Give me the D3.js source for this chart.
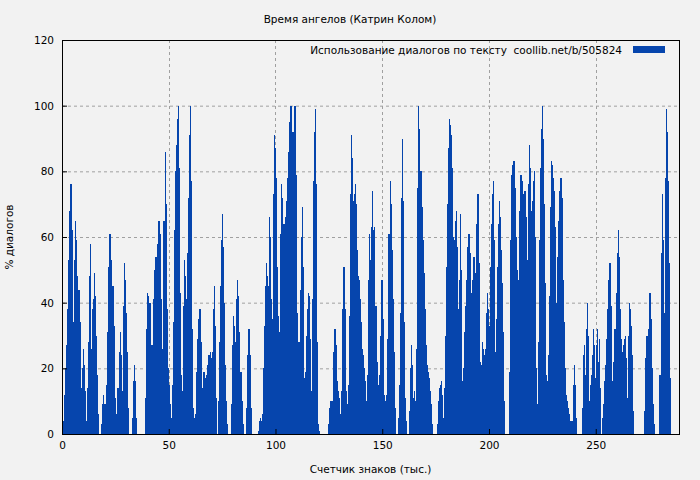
<!DOCTYPE html>
<html>
<head>
<meta charset="utf-8">
<script src="https://cdn.jsdelivr.net/npm/d3@7"></script>
<style>
  body { margin: 0; background: #f2f2f2; }
  text { font-family: "DejaVu Sans", sans-serif; font-size: 10.5px; fill: #000; }
</style>
</head>
<body>
<div id="plot"></div>
<script>
// chart texts
var title = "Время ангелов (Катрин Колом)";
var xLabel = "Счетчик знаков (тыс.)";
var yLabel = "% диалогов";
var legendLabel = "Использование диалогов по тексту\u00a0\u00a0coollib.net/b/505824";
var xTicks = [0, 50, 100, 150, 200, 250];
var yTicks = [0, 20, 40, 60, 80, 100, 120];

// bar layout in data units (thousand chars)
var xStart = 0.6;
var xStep = 0.479;

// % dialogue per bar
var values = [].concat(
  [4,12,20,27,38,53,68,76,62,34,53,65,59,48,44,44,34,14,20,26,21,13,4,14,28,48,58,26,38,41,
   49,42,30,18,6,0,0,3,9,12,9,5,15,31,51,61,53,40,45,33,11,4,6,14,25,31,24,13,39,52,
   47,37,25,8,0,0,0,5,16,21,16,5,0,0,0,0,0,0,0,0,11,32,43,42,40,27,12,27,41,50,
   54,44,58,65,61,41,26,23,65],
  [86,70,38,20,15,9,5,15,34,62,80,88,96,100,81,43,18,13,39,53,48,41,55,72,91,100,77,32,8,5,
   6,19,29,35,38,28,10,14,19,17,12,18,21,24,25,23,25,38,45,33,11,0,10,28,45,59,67,57,40,21,
   10,3,0,0,0,9,27,36,33,28,41,47,42,31,19,10,3,0,0,0,8,24,32,24,8,0,0,0,0,0,
   0,1,4,5,4,6,20,33,45,52,48,45,66,60,41,35,73,91],
  [87,78,51,36,31,61,76,72,64,64,66,71,78,86,95,100,92,77,92,100,79,37,19,28,44,60,69,51,17,19,
   30,38,43,42,29,13,41,77,92,99,76,28,3,1,0,0,0,0,0,0,0,0,3,8,10,7,10,25,32,27,
   16,13,11,6,3,13,38,51,38,13,9,15,36,73,91,84,71,73,76,70,56,48,47,41,34,26,24,20,16,10,
   18,47,61,53,63,74,62,63,39,22,15,6],
  [18,30,47,35,12,7,10,12,29,61,77,70,56,41,25,8,0,0,5,15,37,72,90,71,34,11,4,0,0,7,
   20,27,21,11,13,10,26,75,100,93,80,69,59,49,38,27,21,19,17,13,9,3,0,0,0,0,3,10,14,15,
   16,12,5,14,30,51,70,87,96,94,91,81,60,59,65,68,57,38,47,67,50,16,20,31,39,47,57,61,55,43,
   33,47,54,49,45,64,73,52,22,21,28,26,24],
  [26,37,43,38,33,51,64,73,77,59,25,35,51,64,71,66,56,46,31,10,0,0,0,0,19,59,79,82,83,75,
   60,50,44,47,68,79,77,73,73,74,66,53,76,88,81,68,71,77,80,60,20,9,28,59,81,93,100,90,70,46,
   18,16,24,42,69,83,82,78,74,63,40,54,65,74,78,72,47,34,20,12,10,8,6,4,4,4,15,21,15,5,
   0,0,0,0,0,8,24,27,18,32,40,30,10,15],
  [18,24,32,27,17,27,32,22,29,14,0,5,9,16,21,29,38,47,52,39,16,14,22,32,43,55,62,54,38,29,
   25,27,29,30,23,11,30,40,38,33,24,7,0,0,0,0,0,0,0,0,0,0,7,23,30,11,32,43,35,20,
   9,3,0,0,0,0,0,18,55,73,59,37,78,99,92,77,52,17,0]
);

var W = 700, H = 480;
var margin = {top: 40, right: 21, bottom: 46, left: 62};
var width = W - margin.left - margin.right;
var height = H - margin.top - margin.bottom;

var svg = d3.select("#plot").append("svg")
    .attr("width", W)
    .attr("height", H);

var g = svg.append("g")
    .attr("transform", "translate(" + margin.left + "," + margin.top + ")");

var xScale = d3.scaleLinear().domain([0, 289]).range([0, width]);
var yScale = d3.scaleLinear().domain([0, 120]).range([height, 0]);

//grid
g.selectAll(".hgrid").data(yTicks.slice(1, -1)).enter().append("line")
    .attr("x1", 0).attr("x2", width)
    .attr("y1", function(d) { return yScale(d) + 0.5; })
    .attr("y2", function(d) { return yScale(d) + 0.5; })
    .style("stroke", "#a0a0a0").style("stroke-dasharray", "3,3");
g.selectAll(".vgrid").data(xTicks.slice(1)).enter().append("line")
    .attr("y1", 0).attr("y2", height)
    .attr("x1", function(d) { return Math.round(xScale(d)) + 0.5; })
    .attr("x2", function(d) { return Math.round(xScale(d)) + 0.5; })
    .style("stroke", "#a0a0a0").style("stroke-dasharray", "3,3");

//bars
g.selectAll(".bar").data(values).enter().append("rect")
    .attr("x", function(d, i) { return xScale(xStart + i * xStep); })
    .attr("width", xScale(xStep) - xScale(0) + 0.3)
    .attr("y", function(d) { return yScale(d); })
    .attr("height", function(d) { return height - yScale(d); })
    .attr("shape-rendering", "crispEdges")
    .style("fill", "#0645ad");

//axes
var xAxis = d3.axisBottom(xScale).tickValues(xTicks).tickSize(-5).tickPadding(8);
var yAxis = d3.axisLeft(yScale).tickValues(yTicks).tickSize(-5).tickPadding(8);
g.append("g").attr("transform", "translate(0," + height + ")").call(xAxis)
  .call(function(s) { s.select(".domain").remove(); });
g.append("g").call(yAxis)
  .call(function(s) { s.select(".domain").remove(); });
g.selectAll(".tick text").style("font-family", "DejaVu Sans").style("font-size", "10.5px");

//frame
g.append("rect").attr("x", 0.5).attr("y", 0.5).attr("width", width).attr("height", height)
    .style("fill", "none").style("stroke", "#000");

//texts
svg.append("text").attr("x", W / 2).attr("y", 23).style("text-anchor", "middle").text(title);
svg.append("text").attr("x", margin.left + width / 2).attr("y", 473).style("text-anchor", "middle").text(xLabel);
svg.append("text").attr("transform", "rotate(-90)").attr("x", -(margin.top + height / 2)).attr("y", 13)
    .style("text-anchor", "middle").text(yLabel);

//legend
svg.append("text").attr("x", 622).attr("y", 54).style("text-anchor", "end").text(legendLabel);
svg.append("rect").attr("x", 633).attr("y", 46).attr("width", 32).attr("height", 7).style("fill", "#0645ad");
</script>
</body>
</html>
